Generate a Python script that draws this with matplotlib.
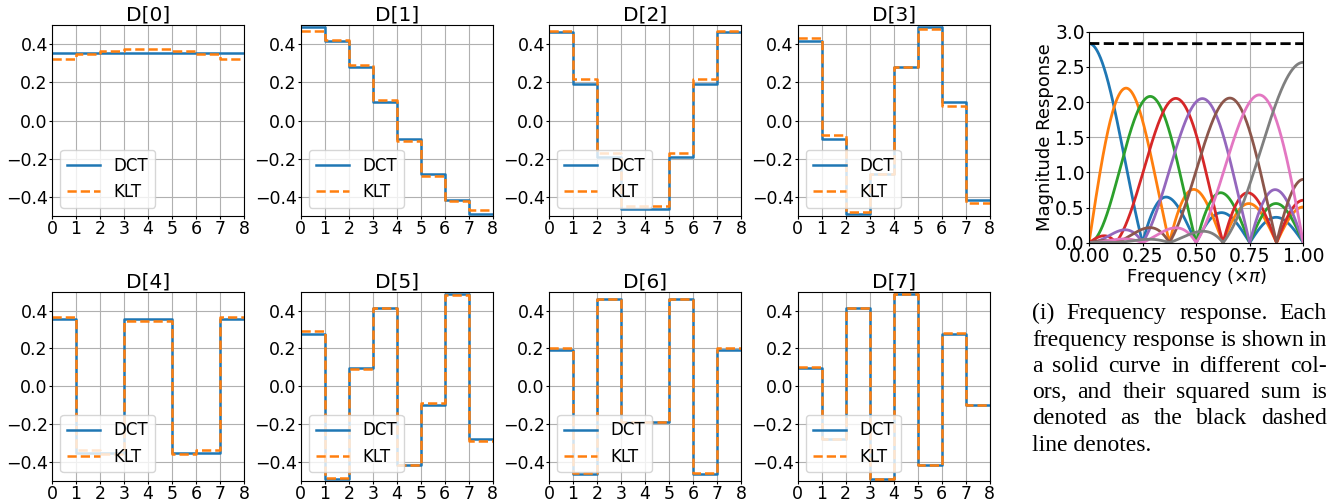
import matplotlib
matplotlib.use("Agg")
import matplotlib.pyplot as plt
import numpy as np

# basis vectors (8 taps each)
DCT = [
    [0.354, 0.354, 0.354, 0.354, 0.354, 0.354, 0.354, 0.354],
    [0.490, 0.416, 0.278, 0.098, -0.098, -0.278, -0.416, -0.490],
    [0.462, 0.191, -0.191, -0.462, -0.462, -0.191, 0.191, 0.462],
    [0.416, -0.098, -0.490, -0.278, 0.278, 0.490, 0.098, -0.416],
    [0.354, -0.354, -0.354, 0.354, 0.354, -0.354, -0.354, 0.354],
    [0.278, -0.490, 0.098, 0.416, -0.416, -0.098, 0.490, -0.278],
    [0.191, -0.462, 0.462, -0.191, -0.191, 0.462, -0.462, 0.191],
    [0.098, -0.278, 0.416, -0.490, 0.490, -0.416, 0.278, -0.098],
]
KLT = [
    [0.321, 0.349, 0.365, 0.375, 0.375, 0.365, 0.349, 0.321],
    [0.470, 0.420, 0.290, 0.105, -0.105, -0.290, -0.420, -0.470],
    [0.470, 0.220, -0.170, -0.450, -0.450, -0.170, 0.220, 0.470],
    [0.430, -0.075, -0.480, -0.280, 0.280, 0.480, 0.075, -0.430],
    [0.365, -0.340, -0.360, 0.345, 0.345, -0.360, -0.340, 0.365],
    [0.290, -0.485, 0.090, 0.415, -0.415, -0.090, 0.485, -0.290],
    [0.200, -0.460, 0.460, -0.190, -0.190, 0.460, -0.460, 0.200],
    [0.100, -0.280, 0.415, -0.490, 0.490, -0.415, 0.280, -0.100],
]
TITLES = [f"D[{k}]" for k in range(8)]
CAPTION = [
    "(i) Frequency response.  Each",
    "frequency response is shown in",
    "a solid curve in different col-",
    "ors, and their squared sum is",
    "denoted as the black dashed",
    "line denotes.",
]

fig = plt.figure(figsize=(13.42, 5.01), dpi=100)

lefts = [0.0387, 0.2241, 0.4091, 0.5944]
rows = [(0.5689, 0.381), (0.0405, 0.377)]
edges = np.arange(9)

for k in range(8):
    b, h = rows[k // 4]
    ax = fig.add_axes([lefts[k % 4], b, 0.1431, h])
    ax.step(edges, np.append(DCT[k], DCT[k][-1]), where="post",
            color="C0", lw=1.8, label="DCT")
    ax.step(edges, np.append(KLT[k], KLT[k][-1]), where="post",
            color="C1", lw=1.8, ls="--", label="KLT")
    ax.set_xlim(0, 8); ax.set_ylim(-0.5, 0.5)
    ax.set_xticks(edges)
    ax.set_yticks([-0.4, -0.2, 0.0, 0.2, 0.4])
    ax.tick_params(labelsize=12.5, length=2, pad=1)
    ax.grid(True)
    ax.set_title(TITLES[k], fontsize=14.5, pad=3)
    ax.legend(loc="lower left", fontsize=12)

# frequency response of each DCT filter
w = np.linspace(0, np.pi, 600)
n = np.arange(8)
E = np.exp(-1j * np.outer(w, n))
H = np.abs(E @ np.array(DCT).T)
axf = fig.add_axes([0.8115, 0.5156, 0.1597, 0.4212])
for k in range(8):
    axf.plot(w / np.pi, H[:, k], color=f"C{k}", lw=2)
axf.plot(w / np.pi, np.sqrt((H ** 2).sum(axis=1)), "k--", lw=2)
axf.set_xlim(0, 1); axf.set_ylim(0, 3)
axf.set_xticks([0, 0.25, 0.5, 0.75, 1.0])
axf.set_yticks(np.arange(0, 3.01, 0.5))
axf.tick_params(labelsize=13.5, length=2, pad=1)
axf.grid(True)
axf.set_xlabel(r"Frequency ($\times\pi$)", fontsize=13, labelpad=0)
axf.set_ylabel("Magnitude Response", fontsize=13, labelpad=1)

# justified caption
x0, x1 = 1032 / 1342, 1327 / 1342
y0, dy = 0.3627, 0.0525
kw = dict(family="Liberation Serif", fontsize=17, va="baseline")
renderer = fig.canvas.get_renderer()
for i, line in enumerate(CAPTION):
    y = y0 - i * dy
    if i == len(CAPTION) - 1:
        fig.text(x0, y, line, **kw)
        continue
    words = line.split()
    texts = [fig.text(0, y, wd, **kw) for wd in words]
    widths = [t.get_window_extent(renderer).width / fig.bbox.width for t in texts]
    gap = (x1 - x0 - sum(widths)) / (len(words) - 1)
    x = x0
    for t, wdt in zip(texts, widths):
        t.set_x(x)
        x += wdt + gap

fig.savefig("out.png", dpi=100)
